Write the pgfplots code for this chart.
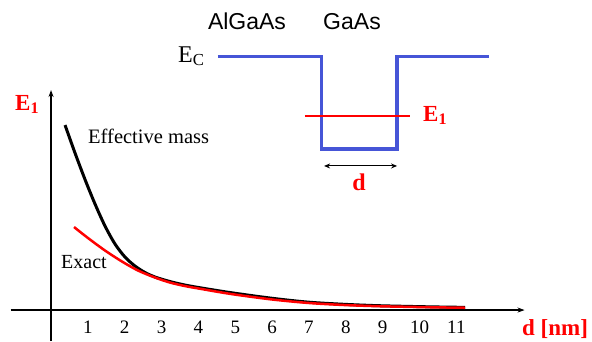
\documentclass[border=0pt]{standalone}
\usepackage{fontspec}
\setmainfont{Liberation Serif}
\newfontfamily\arialfont{Liberation Sans}
\usepackage{pgfplots}
\pgfplotsset{compat=1.18}
\usetikzlibrary{arrows.meta}
\definecolor{wellblue}{RGB}{70,85,215}
\definecolor{ered}{RGB}{255,0,0}
\newcommand{\fs}[1]{\fontsize{#1}{#1}\selectfont}

\begin{document}
\begin{tikzpicture}
\useasboundingbox (0,0) rectangle (592pt,341pt);
\begin{axis}[
  at={(10.5pt,0pt)}, anchor=south west,
  x=36.85pt, y=36.85pt,
  xmin=-1.1, xmax=12.85, ymin=-0.84, ymax=5.97,
  axis lines=middle,
  axis line style={line width=1.4pt, -{Stealth[length=7pt,width=5pt]}},
  xtick={1,...,11}, ytick=\empty,
  major tick length=0pt,
  xticklabel style={anchor=base, yshift=-23pt, font=\fs{19}},
  /pgf/number format/assume math mode=true,
  clip=false,
]
% Effective mass
\addplot[black, line width=3pt, smooth] coordinates {
(0.380,5.020) (0.651,4.261) (0.923,3.541) (1.194,2.877) (1.465,2.280)
(1.737,1.791) (2.008,1.438) (2.279,1.194) (2.551,1.018) (2.822,0.896)
(3.229,0.773) (3.636,0.678) (4.043,0.605) (4.857,0.475) (5.943,0.326)
(6.947,0.217) (7.924,0.157) (8.928,0.117) (10.285,0.087) (11.235,0.073)};
% Exact
\addplot[ered, line width=2.5pt, smooth] coordinates {
(0.624,2.252) (1.004,1.954) (1.465,1.615) (1.927,1.316) (2.361,1.072)
(2.822,0.882) (3.229,0.746) (3.636,0.651) (4.043,0.578) (4.857,0.440)
(5.943,0.293) (6.947,0.195) (7.924,0.138) (8.928,0.103) (10.285,0.076)
(11.235,0.062)};
% quantum well diagram
\addplot[wellblue, line width=3.2pt, line join=miter] coordinates {
(4.53,6.87) (7.35,6.87) (7.35,4.37) (9.39,4.37) (9.39,6.87) (11.89,6.87)};
\addplot[ered, line width=1.8pt] coordinates {(6.89,5.26) (9.74,5.26)};
\addplot[black, line width=1pt, {Stealth[length=6pt,width=5pt]}-{Stealth[length=6pt,width=5pt]}] coordinates {(7.41,3.91) (9.39,3.91)};
\end{axis}
\node[anchor=base west, inner sep=0, font=\fs{24}] at (178pt,279pt) {E\textsubscript{C}};
\node[anchor=base, inner sep=0, font=\arialfont\fs{23}] at (247pt,311pt) {AlGaAs};
\node[anchor=base, inner sep=0, font=\arialfont\fs{23}] at (352pt,311pt) {GaAs};
\node[anchor=base west, inner sep=0, text=ered, font=\bfseries\fs{23}] at (15pt,231pt) {E\textsubscript{1}};
\node[anchor=base west, inner sep=0, text=ered, font=\bfseries\fs{23}] at (423pt,220pt) {E\textsubscript{1}};
\node[anchor=base, inner sep=0, text=ered, font=\bfseries\fs{24}] at (359pt,151pt) {d};
\node[anchor=base west, inner sep=0, font=\fs{20.5}] at (88pt,198pt) {Effective mass};
\node[anchor=base west, inner sep=0, font=\fs{20}] at (61pt,73pt) {Exact};
\node[anchor=base west, inner sep=0, text=ered, font=\bfseries\fs{23}] at (522pt,6pt) {d [nm]};
\end{tikzpicture}
\end{document}
